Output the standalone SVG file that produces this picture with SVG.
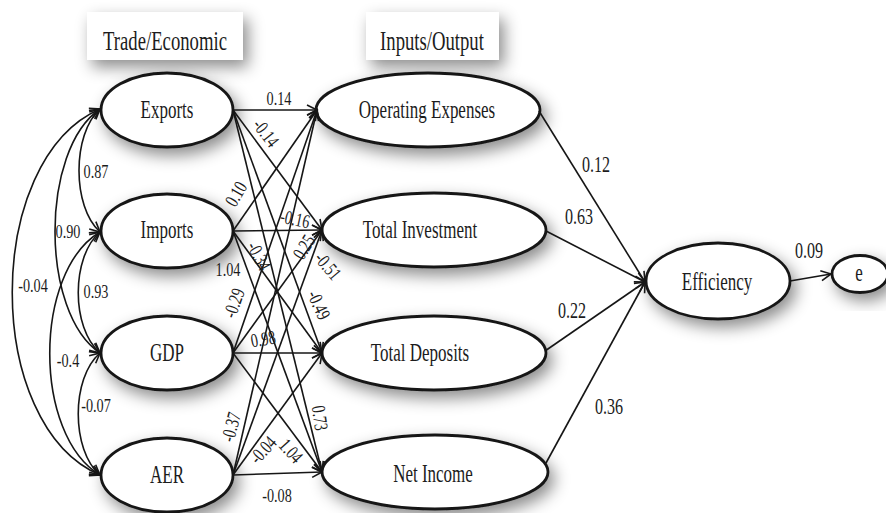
<svg xmlns="http://www.w3.org/2000/svg" width="886" height="513" viewBox="0 0 886 513" font-family="Liberation Serif, Times New Roman, serif">
<style>
.bg{fill:#ffffff}
.nd{fill:#ffffff;stroke:#161616;stroke-width:2.8;filter:url(#sh)}
.tb{fill:#ffffff;filter:url(#sh)}
.tx{font-family:"Liberation Serif","Times New Roman",serif;fill:#1c1c1c;text-anchor:middle}
.nt{font-size:25px}
.tt{font-size:27.5px}
.lb{font-size:19.5px}
.lr{font-size:23px}
.ln{fill:none;stroke:#161616;stroke-width:1.6;marker-end:url(#ah)}
.cv{fill:none;stroke:#161616;stroke-width:1.6;marker-end:url(#ah);marker-start:url(#ah)}
</style>
<defs>
<filter id="sh" x="-30%" y="-40%" width="170%" height="190%">
<feDropShadow dx="5" dy="7" stdDeviation="8" flood-color="#000" flood-opacity="0.45"/>
</filter>
<marker id="ah" markerUnits="userSpaceOnUse" markerWidth="14" markerHeight="14" refX="11" refY="6" orient="auto-start-reverse">
<path d="M1,1 L11,6 L1,11" fill="none" stroke="#161616" stroke-width="1.6"/>
</marker>
</defs>
<rect class="bg" x="0" y="0" width="886" height="513"/>

<g id="title-trade">
<rect class="tb" x="87" y="12" width="156" height="48"/>
<text class="tx tt" transform="matrix(0.68 0 0 1 165 50)">Trade/Economic</text>
</g>
<g id="title-io">
<rect class="tb" x="366" y="12" width="133" height="48"/>
<text class="tx tt" transform="matrix(0.68 0 0 1 432 50)">Inputs/Output</text>
</g>

<g id="exports"><ellipse class="nd" cx="167" cy="110" rx="66" ry="37"/><text class="tx nt" transform="matrix(0.68 0 0 1 167 118)">Exports</text></g>
<g id="imports"><ellipse class="nd" cx="167" cy="231" rx="66" ry="37"/><text class="tx nt" transform="matrix(0.68 0 0 1 167 238)">Imports</text></g>
<g id="gdp"><ellipse class="nd" cx="167" cy="353" rx="66" ry="37"/><text class="tx nt" transform="matrix(0.68 0 0 1 167 361)">GDP</text></g>
<g id="aer"><ellipse class="nd" cx="167" cy="475" rx="66" ry="37"/><text class="tx nt" transform="matrix(0.68 0 0 1 167 483)">AER</text></g>

<g id="opex"><ellipse class="nd" cx="428" cy="110" rx="112" ry="37"/><text class="tx nt" transform="matrix(0.68 0 0 1 427 118)">Operating Expenses</text></g>
<g id="invest"><ellipse class="nd" cx="434" cy="230" rx="112" ry="37"/><text class="tx nt" transform="matrix(0.68 0 0 1 420 238)">Total Investment</text></g>
<g id="deposits"><ellipse class="nd" cx="434" cy="353" rx="112" ry="37"/><text class="tx nt" transform="matrix(0.68 0 0 1 420 361)">Total Deposits</text></g>
<g id="netincome"><ellipse class="nd" cx="435" cy="472" rx="113" ry="37"/><text class="tx nt" transform="matrix(0.68 0 0 1 433 482)">Net Income</text></g>

<g id="efficiency"><ellipse class="nd" cx="718" cy="281" rx="72" ry="38"/><text class="tx nt" transform="matrix(0.68 0 0 1 717 290)">Efficiency</text></g>
<g id="e"><ellipse class="nd" cx="860" cy="274" rx="28" ry="18.5"/><text class="tx nt" transform="matrix(0.68 0 0 1 859 281)">e</text></g>

<g id="connectors">
<line class="ln" x1="233" y1="110" x2="317" y2="110"/>
<line class="ln" x1="233" y1="110" x2="322" y2="230"/>
<line class="ln" x1="233" y1="110" x2="322" y2="353"/>
<line class="ln" x1="233" y1="110" x2="322" y2="472"/>
<line class="ln" x1="233" y1="231" x2="317" y2="110"/>
<line class="ln" x1="233" y1="231" x2="322" y2="230"/>
<line class="ln" x1="233" y1="231" x2="322" y2="353"/>
<line class="ln" x1="233" y1="231" x2="322" y2="472"/>
<line class="ln" x1="233" y1="353" x2="317" y2="110"/>
<line class="ln" x1="233" y1="353" x2="322" y2="230"/>
<line class="ln" x1="233" y1="353" x2="322" y2="353"/>
<line class="ln" x1="233" y1="353" x2="322" y2="472"/>
<line class="ln" x1="233" y1="475" x2="317" y2="110"/>
<line class="ln" x1="233" y1="475" x2="322" y2="230"/>
<line class="ln" x1="233" y1="475" x2="322" y2="353"/>
<line class="ln" x1="233" y1="475" x2="322" y2="472"/>

<line class="ln" x1="539" y1="111" x2="645" y2="282"/>
<line class="ln" x1="546" y1="231" x2="645" y2="282"/>
<line class="ln" x1="545" y1="351" x2="645" y2="282"/>
<line class="ln" x1="546" y1="463" x2="645" y2="282"/>
<line class="ln" x1="790" y1="281" x2="831" y2="274"/>

<path class="cv" d="M100,109 C72,134 72,207 100,232"/>
<path class="cv" d="M100,109 C40,150 40,313 100,353"/>
<path class="cv" d="M100,109 C-17,160 -17,425 100,475"/>
<path class="cv" d="M100,232 C71,257 71,328 100,353"/>
<path class="cv" d="M100,232 C33,272 33,435 100,475"/>
<path class="cv" d="M100,353 C71,378 71,450 100,475"/>
</g>

<g id="labels">
<text class="tx lb" transform="translate(279,98) scale(0.73,1)" y="6.5">0.14</text>
<text class="tx lb" transform="translate(266,133) rotate(52) scale(0.73,1)" y="6.5">-0.14</text>
<text class="tx lb" transform="translate(236,194) rotate(-60) scale(0.73,1)" y="6.5">0.10</text>
<text class="tx lb" transform="translate(295,219) rotate(12) scale(0.73,1)" y="6.5">-0.16</text>
<text class="tx lb" transform="translate(228,269) scale(0.73,1)" y="6.5">1.04</text>
<text class="tx lb" transform="translate(259,256) rotate(62) scale(0.73,1)" y="6.5">-0.34</text>
<text class="tx lb" transform="translate(304,247) rotate(-58) scale(0.73,1)" y="6.5">0.25</text>
<text class="tx lb" transform="translate(328,266) rotate(50) scale(0.73,1)" y="6.5">-0.51</text>
<text class="tx lb" transform="translate(234,303) rotate(-70) scale(0.73,1)" y="6.5">-0.29</text>
<text class="tx lb" transform="translate(319,305) rotate(65) scale(0.73,1)" y="6.5">-0.49</text>
<text class="tx lb" transform="translate(263,339) rotate(-10) scale(0.73,1)" y="6.5">0.98</text>
<text class="tx lb" transform="translate(320,418) rotate(82) scale(0.73,1)" y="6.5">0.73</text>
<text class="tx lb" transform="translate(231,427) rotate(-75) scale(0.73,1)" y="6.5">-0.37</text>
<text class="tx lb" transform="translate(263,450) rotate(-48) scale(0.73,1)" y="6.5">-0.04</text>
<text class="tx lb" transform="translate(291,451) rotate(48) scale(0.73,1)" y="6.5">1.04</text>
<text class="tx lb" transform="translate(277,495) scale(0.73,1)" y="6.5">-0.08</text>

<text class="tx lb" transform="translate(96,171) scale(0.73,1)" y="6.5">0.87</text>
<text class="tx lb" transform="translate(68,231) scale(0.73,1)" y="6.5">0.90</text>
<text class="tx lb" transform="translate(33,285) scale(0.73,1)" y="6.5">-0.04</text>
<text class="tx lb" transform="translate(96,291) scale(0.73,1)" y="6.5">0.93</text>
<text class="tx lb" transform="translate(68,360) scale(0.73,1)" y="6.5">-0.4</text>
<text class="tx lb" transform="translate(96,405) scale(0.73,1)" y="6.5">-0.07</text>

<text class="tx lr" transform="translate(596,164) scale(0.7,1)" y="7.5">0.12</text>
<text class="tx lr" transform="translate(579,216) scale(0.7,1)" y="7.5">0.63</text>
<text class="tx lr" transform="translate(572,310) scale(0.7,1)" y="7.5">0.22</text>
<text class="tx lr" transform="translate(609,406) scale(0.7,1)" y="7.5">0.36</text>
<text class="tx lr" transform="translate(809,250) scale(0.7,1)" y="7.5">0.09</text>
</g>
</svg>
